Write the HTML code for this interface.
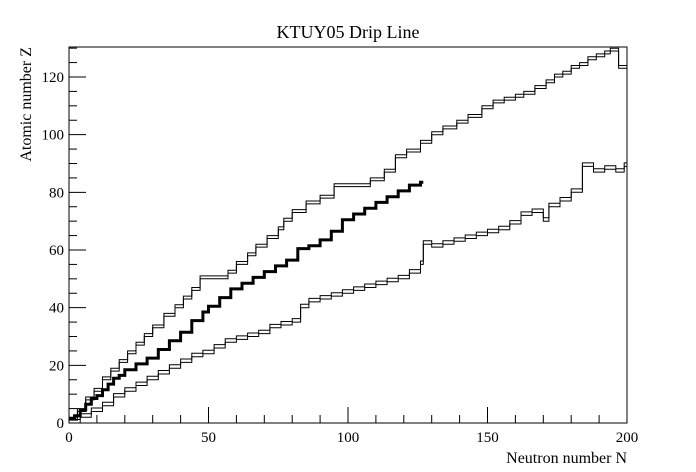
<!DOCTYPE html>
<html><head><meta charset="utf-8"><style>
body{margin:0;background:#fff;}
svg{display:block;font-family:"Liberation Serif",serif;}
</style></head><body>
<svg id="chart" width="696" height="472">
<rect x="0" y="0" width="696" height="472" fill="#fff"/>
<text x="348" y="38" text-anchor="middle" font-size="18">KTUY05 Drip Line</text>
<text x="627" y="463" text-anchor="end" font-size="16">Neutron number N</text>
<text transform="translate(31,47) rotate(-90)" text-anchor="end" font-size="16">Atomic number Z</text>
<g id="axes"></g>
<g id="series"></g>
<rect x="69" y="47" width="558" height="376" fill="none" stroke="#000" stroke-width="1"/>
</svg>
<script>
const xTicks=[0,50,100,150,200];
const yTicks=[0,20,40,60,80,100,120];
const pN=[0,3,6,9,12,15,18,21,24,27,30,34,38,41,44,47,57,60,64,67,71,75,77,80,85,90,95,108,113,117,121,126,130,134,139,143,148,152,156,160,163,167,171,174,177,180,183,186,189,192,194,197];
const pZ=[1,4,8,11,15,18,21,24,27,30,33,37,40,43,46,50,52,55,58,61,64,67,70,73,76,78,82,84,87,92,94,97,100,102,104,106,109,111,112,113,114,116,118,120,121,123,124,126,127,128,129,123];
const sN=[0,2,4,6,8,10,12,14,16,18,20,24,28,32,36,40,44,48,50,54,58,62,66,70,74,78,82,86,90,94,98,102,106,110,114,118,122,126];
const sZ=[1,2,4,6,8,9,11,13,15,16,18,20,22,25,28,31,35,38,40,43,46,48,50,52,54,56,60,61,63,66,70,72,74,76,78,80,82,83];
const nN=[0,4,8,12,16,20,24,28,32,36,40,44,48,52,56,60,64,68,72,76,80,83,86,90,94,98,102,106,110,114,118,122,126,127,130,134,138,142,146,150,154,158,162,166,170,172,176,180,184,188,192,196,199];
const nZ=[0,2,4,6,9,11,13,15,17,19,21,23,24,26,28,29,30,31,33,34,35,40,42,43,44,45,46,47,48,49,50,52,55,62,61,62,63,64,65,66,67,69,72,73,70,75,77,80,89,87,88,87,89];
const X0=69,X1=627,Y0=423,Y1=47,XMAX=200,YMAX=130.4;
const sx=n=>X0+(n/XMAX)*(X1-X0);
const sy=z=>Y0-(z/YMAX)*(Y0-Y1);
const NS='http://www.w3.org/2000/svg';
const axes=document.getElementById('axes'),series=document.getElementById('series');
function mk(tag,attrs,parent){const e=document.createElementNS(NS,tag);for(const k in attrs)e.setAttribute(k,attrs[k]);parent.appendChild(e);return e;}
for(let n=0;n<=XMAX;n+=10){
  const major=n%50===0;
  const t=mk('line',{x1:sx(n),x2:sx(n),y1:Y0,y2:Y0-(major?16:8),stroke:'#000'},axes);
  
  
}
xTicks.forEach(v=>{const t=mk('text',{x:sx(v),y:Y0+19,'text-anchor':'middle','font-size':15},axes);t.textContent=v;
  
  });
for(let z=0;z<=YMAX;z+=5){
  const major=z%20===0;
  const t=mk('line',{x1:X0,x2:X0+(major?17:8),y1:sy(z),y2:sy(z),stroke:'#000'},axes);
  
  
}
yTicks.forEach(v=>{const t=mk('text',{x:X0-5,y:sy(v)+5,'text-anchor':'end','font-size':15},axes);t.textContent=v;
  
  });
function stepPath(N,Z,end,off){
  let d='';
  for(let i=0;i<N.length;i++){
    const x0=sx(N[i]),x1=sx(i+1<N.length?N[i+1]:end),y=sy(Z[i]+off);
    d+=(i===0?'M':'L')+x0.toFixed(1)+','+y.toFixed(1)+'L'+x1.toFixed(1)+','+y.toFixed(1);
  }
  return d;
}
const p1=mk('path',{d:stepPath(pN,pZ,200,0),fill:'none',stroke:'#000','stroke-width':1},series);


const p2=mk('path',{d:stepPath(pN,pZ,200,1),fill:'none',stroke:'#000','stroke-width':1},series);


const s1=mk('path',{d:stepPath(sN,sZ,127,0.5),fill:'none',stroke:'#000','stroke-width':3},series);


const n1=mk('path',{d:stepPath(nN,nZ,200,0),fill:'none',stroke:'#000','stroke-width':1},series);


const n2=mk('path',{d:stepPath(nN,nZ,200,1.2),fill:'none',stroke:'#000','stroke-width':1},series);


</script>
</body></html>
